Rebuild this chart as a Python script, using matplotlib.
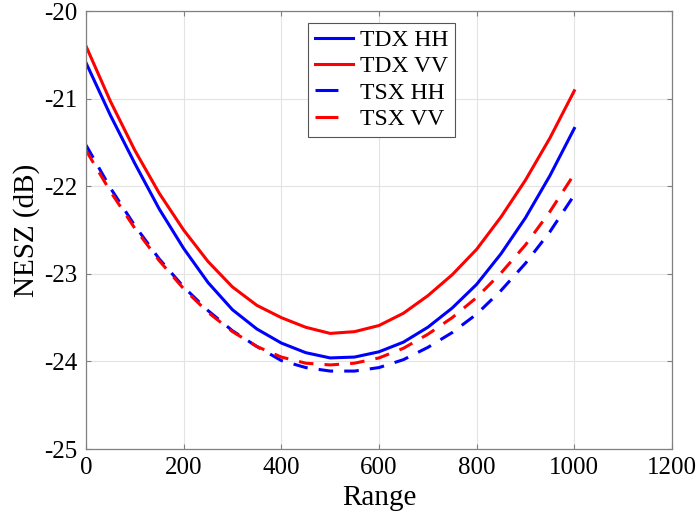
import numpy as np
import matplotlib
matplotlib.use("Agg")
import matplotlib.pyplot as plt
from matplotlib.lines import Line2D

# --- dane ---
RANGE = [0, 50, 100, 150, 200, 250, 300, 350, 400, 450, 500,
         550, 600, 650, 700, 750, 800, 850, 900, 950, 1000]

TDX_HH = [-20.59, -21.19, -21.74, -22.26, -22.71, -23.10, -23.41, -23.63, -23.79, -23.90, -23.96,
          -23.95, -23.89, -23.78, -23.61, -23.39, -23.12, -22.77, -22.36, -21.88, -21.34]
TDX_VV = [-20.40, -21.03, -21.59, -22.08, -22.50, -22.86, -23.15, -23.36, -23.50, -23.61, -23.68,
          -23.66, -23.59, -23.45, -23.25, -23.01, -22.72, -22.35, -21.93, -21.45, -20.91]
TSX_HH = [-21.53, -22.02, -22.45, -22.83, -23.15, -23.42, -23.65, -23.83, -23.99, -24.07, -24.11,
          -24.11, -24.07, -23.98, -23.84, -23.67, -23.46, -23.19, -22.88, -22.52, -22.10]
TSX_VV = [-21.59, -22.06, -22.48, -22.85, -23.17, -23.44, -23.66, -23.83, -23.95, -24.02, -24.04,
          -24.02, -23.96, -23.85, -23.69, -23.50, -23.27, -22.99, -22.67, -22.29, -21.86]

LABELS = ["TDX HH", "TDX VV", "TSX HH", "TSX VV"]
X_TICKS = [0, 200, 400, 600, 800, 1000, 1200]
Y_TICKS = [-25, -24, -23, -22, -21, -20]

plt.rcParams["font.family"] = ["Liberation Serif", "DejaVu Serif"]
plt.rcParams["axes.unicode_minus"] = False
plt.rcParams["lines.scale_dashes"] = False

fig = plt.figure(figsize=(6.98, 5.22), dpi=100)
ax = fig.add_axes([0.1232, 0.1398, 0.8395, 0.839])

LW = 2.2
DASH = (10.5, 8.0)
ax.plot(RANGE, TDX_HH, color="#0000ff", lw=LW)
ax.plot(RANGE, TDX_VV, color="#ff0000", lw=LW)
ax.plot(RANGE, TSX_HH, color="#0000ff", lw=LW, dashes=DASH)
ax.plot(RANGE, TSX_VV, color="#ff0000", lw=LW, dashes=DASH)

ax.set_xlim(0, 1200)
ax.set_ylim(-25, -20)
ax.set_xticks(X_TICKS)
ax.set_yticks(Y_TICKS)
ax.grid(True, color="#e3e3e3", linewidth=0.8)
ax.set_axisbelow(True)
for s in ax.spines.values():
    s.set_color("#808080")
    s.set_linewidth(0.9)
ax.tick_params(direction="in", length=3.5, width=0.8, color="#808080",
               top=True, right=True, labelsize=18, pad=6, labelcolor="black")

ax.set_xlabel("Range", fontsize=21, labelpad=4)
ax.set_ylabel("NESZ (dB)", fontsize=21, labelpad=3)

# legenda w stylu MATLAB-a (dłuższa kreska w uchwycie)
handles = [
    Line2D([], [], color="#0000ff", lw=LW),
    Line2D([], [], color="#ff0000", lw=LW),
    Line2D([], [], color="#0000ff", lw=LW, dashes=(16.5, 11)),
    Line2D([], [], color="#ff0000", lw=LW, dashes=(16.5, 11)),
]
leg = ax.legend(handles, LABELS, loc="upper left", bbox_to_anchor=(0.379, 0.9726),
                borderaxespad=0, fontsize=17, handlelength=1.62, handletextpad=0.28,
                labelspacing=0.2, borderpad=0.28, fancybox=False, framealpha=1)
leg.get_frame().set_edgecolor("#555555")
leg.get_frame().set_linewidth(0.8)

fig.savefig("out.png", dpi=100)
